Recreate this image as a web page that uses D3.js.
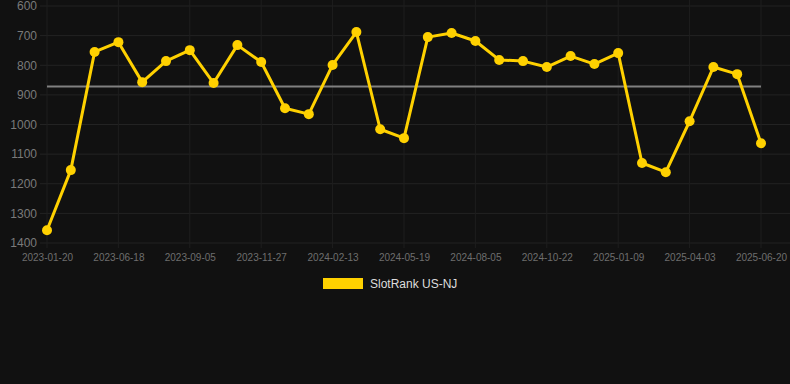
<!DOCTYPE html>
<html>
<head>
<meta charset="utf-8">
<script src="https://cdn.jsdelivr.net/npm/d3@7"></script>
<style>
  body { margin: 0; background: #111; }
  svg { display: block; font-family: Arial, "Liberation Sans", sans-serif; }
</style>
</head>
<body>
<div id="chart"></div>
<script>
// dates (every third one is labelled on the axis)
var dates = [
  '2023-01-20', '2023-03-10', '2023-04-29', '2023-06-18', '2023-07-14', '2023-08-10',
  '2023-09-05', '2023-10-03', '2023-10-31', '2023-11-27', '2023-12-23', '2024-01-18',
  '2024-02-13', '2024-03-15', '2024-04-17', '2024-05-19', '2024-06-14', '2024-07-10',
  '2024-08-05', '2024-08-31', '2024-09-26', '2024-10-22', '2024-11-17', '2024-12-14',
  '2025-01-09', '2025-02-06', '2025-03-06', '2025-04-03', '2025-04-29', '2025-05-25',
  '2025-06-20'
]
var ranks = [
  1357, 1154, 755, 722, 857, 786,
  749, 860, 732, 789, 945, 965,
  799, 688, 1016, 1046, 705, 691,
  718, 782, 786, 806, 769, 796,
  759, 1130, 1161, 989, 806, 830,
  1063
]
var yTicks = [600, 700, 800, 900, 1000, 1100, 1200, 1300, 1400]
var seriesName = 'SlotRank US-NJ'

var W = 790, H = 384
var gold = '#ffd100'

var svg = d3.select('#chart').append('svg').attr('width', W).attr('height', H)
svg.append('rect').attr('width', W).attr('height', H).attr('fill', '#111')

var x = d3.scalePoint().domain(dates).range([47, 761])
var y = d3.scaleLinear().domain([600, 1400]).range([6, 243])

var labelled = dates.filter((d, i) => i % 3 == 0)

// grid
svg.append('g').selectAll('line').data(yTicks).join('line')
  .attr('x1', 40).attr('x2', 790)
  .attr('y1', d => y(d)).attr('y2', d => y(d))
  .attr('stroke', '#232323').attr('stroke-width', 1)

svg.append('g').selectAll('line').data(labelled).join('line')
  .attr('x1', d => x(d)).attr('x2', d => x(d))
  .attr('y1', 0).attr('y2', 248)
  .attr('stroke', '#1e1e1e').attr('stroke-width', 1)

// axes
var yAxis = svg.append('g')
  .attr('transform', 'translate(42,0)')
  .call(d3.axisLeft(y).tickValues(yTicks).tickFormat(d3.format('d')).tickSize(0).tickPadding(5))
yAxis.select('.domain').remove()
yAxis.selectAll('text').attr('fill', '#7a7a7a').style('font-size', '12px')

var xAxis = svg.append('g')
  .attr('transform', 'translate(0,250)')
  .call(d3.axisBottom(x).tickValues(labelled).tickSize(0).tickPadding(4))
xAxis.select('.domain').remove()
xAxis.selectAll('text').attr('fill', '#6e6e6e').style('font-size', '10px')

// mean line
var avg = d3.mean(ranks)
svg.append('line')
  .attr('x1', x(dates[0])).attr('x2', x(dates[dates.length - 1]))
  .attr('y1', y(avg)).attr('y2', y(avg))
  .attr('stroke', '#808080').attr('stroke-width', 2)

// series
var pts = dates.map((d, i) => ({date: d, val: ranks[i]}))

svg.append('path')
  .datum(pts)
  .attr('fill', 'none')
  .attr('stroke', gold)
  .attr('stroke-width', 3)
  .attr('stroke-linejoin', 'round')
  .attr('d', d3.line().x(d => x(d.date)).y(d => y(d.val)))

svg.append('g').selectAll('circle').data(pts).join('circle')
  .attr('cx', d => x(d.date)).attr('cy', d => y(d.val))
  .attr('r', 5).attr('fill', gold)

// legend
var leg = svg.append('g').attr('transform', 'translate(323,278)')
leg.append('rect').attr('width', 40).attr('height', 11).attr('fill', gold)
leg.append('text').attr('x', 47).attr('y', 10)
  .attr('fill', '#ddd').style('font-size', '12px')
  .text(seriesName)
</script>
</body>
</html>
